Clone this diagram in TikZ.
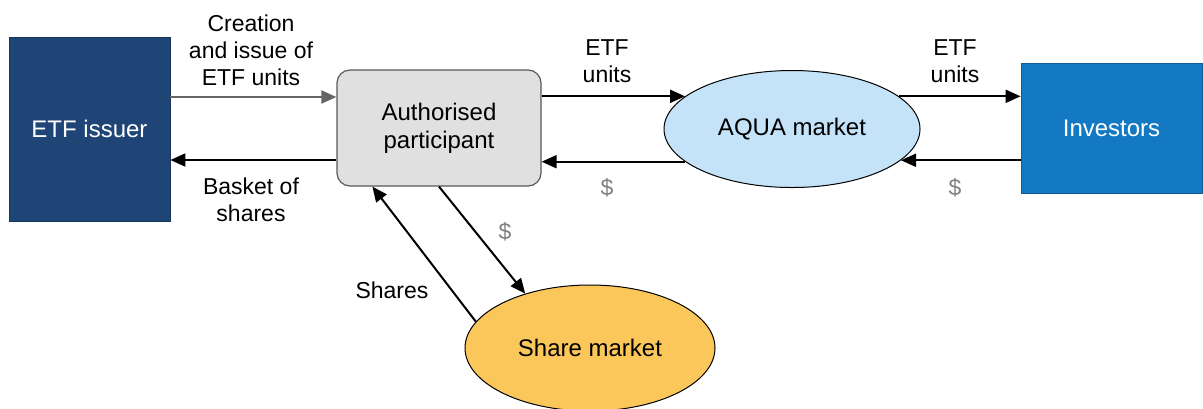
\documentclass[tikz,border=0pt]{standalone}
\usepackage{fontspec}
\setmainfont{Liberation Sans}
\usetikzlibrary{arrows.meta,shapes.geometric,positioning}
\definecolor{issuerblue}{HTML}{1F4577}
\definecolor{investblue}{HTML}{1479C3}
\definecolor{apgray}{HTML}{E0E0E0}
\definecolor{aquablue}{HTML}{C5E3F8}
\definecolor{shareorange}{HTML}{FCC75A}
\definecolor{arrowgray}{HTML}{666666}
\definecolor{dollargray}{HTML}{808080}

\begin{document}
\begin{tikzpicture}[x=0.5pt,y=-0.5pt,
		every node/.style={font=\fontsize{11.5}{13.5}\selectfont,align=center},
		flow/.style={-{Triangle[length=7.5pt,width=6.5pt]},line width=1pt},
		party/.style={draw=#1!75!black,fill=#1,text=white,inner sep=0pt,font=\fontsize{12}{14}\selectfont},
		market/.style={ellipse,draw,line width=0.5pt,fill=#1,inner sep=0pt,font=\fontsize{12}{14}\selectfont},
		money/.style={text=dollargray}]
				\useasboundingbox (0,0) rectangle (1203,408);
				\node (issuer) [party=issuerblue,minimum width=80.5pt,minimum height=92pt] at (89.5,129) {ETF issuer};
				\node (ap) [draw=black!65,fill=apgray,rounded corners=6.5pt,line width=0.6pt,minimum width=102pt,minimum height=58pt,font=\fontsize{12}{14}\selectfont] at (439,128) {Authorised\\participant};
				\node (aqua) [market=aquablue,minimum width=128pt,minimum height=58.5pt] at (792,129) {AQUA market};
				\node (investors) [party=investblue,minimum width=90.5pt,minimum height=65pt] at (1111.5,128) {Investors};
				\node (share) [market=shareorange,minimum width=125pt,minimum height=63pt] at (590,348) {Share market};
				\draw [flow,draw=arrowgray] ([yshift=16pt]issuer.east) -- ([yshift=16pt]issuer.east -| ap.west);
				\draw [flow] ([yshift=-16pt]ap.west) -- ([yshift=-16pt]ap.west -| issuer.east);
				\draw [flow] (ap.east |- aqua.163) -- (aqua.163); \draw [flow] (aqua.197) -- (aqua.197 -| ap.east);
				\draw [flow] (aqua.17) -- (aqua.17 -| investors.west); \draw [flow] (investors.west |- aqua.344) -- (aqua.344);
				\draw [flow] (ap.south) -- (share.140); \draw [flow] (share.167) -- ([xshift=18pt]ap.south west);
				\node (creation) at (251,50) {Creation\\and issue of\\ETF units};
				\node (basket) at (251,200) {Basket of\\shares};
				\node (unitsaqua) at (607,61) {ETF\\units}; \node (cashaqua) [money] at (607,188) {\$};
				\node (unitsinv) at (955,61) {ETF\\units}; \node (cashinv) [money] at (955,188) {\$};
				\node (cashshare) [money] at (505,232) {\$}; \node (shares) at (392,290) {Shares};
			\end{tikzpicture}
\end{document}
